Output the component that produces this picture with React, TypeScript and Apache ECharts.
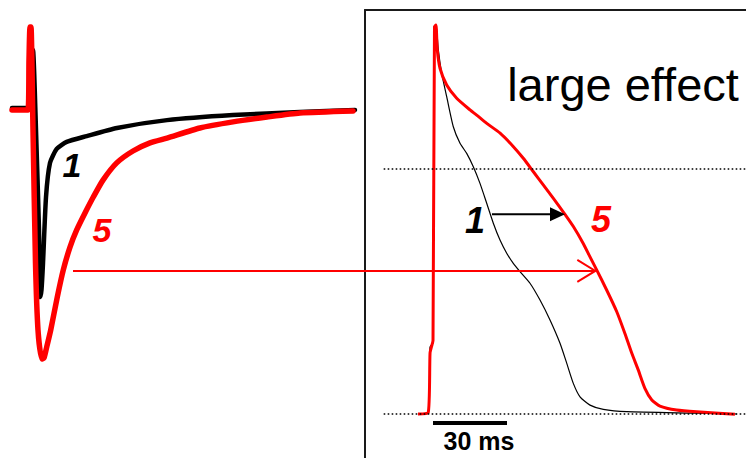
import React, { useEffect, useRef } from "react";
import * as echarts from "echarts";

// ---- Left panel: membrane current (normalized to peak of beat 5), time in ms ----
const currentTime1 = [-9, -1.5, 0, 1.5, 3, 4.5, 5.15, 5.75, 6.5, 8, 10, 13.35, 18.35, 28.35, 43.5, 68.5, 101.5, 135, 162.5];
const currentBeat1 = [0.008, 0.008, 0.008, 0.237, -0.079, -0.474, -0.739, -0.711, -0.605, -0.344, -0.209, -0.154, -0.126, -0.103, -0.071, -0.04, -0.02, -0.008, 0];

const currentTime5 = [-9, -1, -0.5, 0, 0.5, 1.5, 2.75, 4, 5.85, 7, 8.35, 10.35, 13.65, 16.65, 20, 23.35, 27.5, 31.65, 36.5, 43.35, 51.5, 60, 68.5, 85, 101.5, 118.5, 135, 161.5];
const currentBeat5 = [0, 0, 0.198, 0.328, 0.328, -0.079, -0.605, -0.87, -0.984, -0.98, -0.937, -0.87, -0.739, -0.632, -0.542, -0.474, -0.407, -0.344, -0.277, -0.209, -0.162, -0.13, -0.111, -0.071, -0.047, -0.028, -0.012, -0.004];

// ---- Right panel: action potentials, time in ms, voltage in mV ----
const apTime1 = [-6.1, -2.0, -1.2, 0, 0.4, 1.2, 2.15, 3.53, 5.55, 8.23, 10.95, 13.66, 16.34, 19.05, 21.77, 24.45, 27.16, 29.88, 32.55, 35.27, 39.32, 43.38, 47.43, 51.49, 54.2, 56.88, 59.6, 63.65, 69.04, 78.53, 105.4, 123.2];
const apVolt1 = [-80, -79.7, -58.1, -56.8, 46.4, 47.0, 38.9, 31.2, 23.6, 13.8, 8.4, 5.1, 0.75, -4.7, -11.2, -17.7, -23.2, -27.5, -30.8, -33.5, -37.3, -42.8, -49.3, -56.9, -63.4, -70.0, -74.4, -77.1, -78.5, -79.25, -79.7, -80];

const apTime5 = [-6.1, -2.0, -1.2, -0.6, 0, 0.6, 1.2, 1.74, 2.84, 5.55, 9.6, 15.0, 17.7, 21.8, 27.2, 32.6, 36.6, 40.7, 44.7, 48.8, 53.5, 56.9, 60.9, 63.6, 66.4, 70.4, 74.5, 77.8, 80.6, 83.2, 85.9, 88.7, 92.0, 98.8, 106.9, 122.4];
const apVolt5 = [-80, -79.7, -60, -58, -56, 46.4, 47, 38.9, 32.9, 27.4, 23.1, 19.3, 17.6, 14.9, 11.7, 7.3, 3.5, -0.9, -5.2, -9.6, -14.8, -18.8, -24.3, -28.6, -33.0, -39.5, -46.6, -53.7, -60.2, -65.6, -71.6, -75.4, -77.4, -78.7, -79.3, -80.1];

// reference levels (mV) and scale bar
const refLevels = [0, -80];
const scaleBarMs = 30;
const scaleBarY = -83;

const zip = (a: number[], b: number[]) => a.map((v, i) => [v, b[i]]);

const FONT = "'Liberation Sans', Arial, Helvetica, sans-serif";

export default function App() {
  const ref = useRef<HTMLDivElement>(null);
  useEffect(() => {
    if (!ref.current) return;
    const chart = echarts.init(ref.current, null, { renderer: "svg" });
    const hiddenAxis = { show: false };
    chart.setOption({
      animation: false,
      backgroundColor: "#ffffff",
      grid: [
        { left: 0, top: 0, width: 365, height: 458 },
        { left: 365, top: 10, width: 381, height: 448 },
      ],
      xAxis: [
        { type: "value", gridIndex: 0, min: -15, max: 167.5, ...hiddenAxis },
        {
          type: "value", gridIndex: 1, min: -27.57, max: 126.89, position: "top",
          axisLine: { show: true, onZero: false, lineStyle: { color: "#1a1a1a", width: 2 } },
          axisTick: { show: false }, axisLabel: { show: false }, splitLine: { show: false },
        },
      ],
      yAxis: [
        { type: "value", gridIndex: 0, min: -1.3755, max: 0.4348, ...hiddenAxis },
        {
          type: "value", gridIndex: 1, min: -94.37, max: 51.92,
          axisLine: { show: true, onZero: false, lineStyle: { color: "#1a1a1a", width: 2 } },
          axisTick: { show: false }, axisLabel: { show: false }, splitLine: { show: false },
        },
      ],
      series: [
        {
          type: "line", xAxisIndex: 0, yAxisIndex: 0, data: zip(currentTime1, currentBeat1),
          showSymbol: false, silent: true, smooth: 0.2,
          lineStyle: { color: "#000000", width: 4.5, cap: "round", join: "round" },
        },
        {
          type: "line", xAxisIndex: 0, yAxisIndex: 0, data: zip(currentTime5, currentBeat5),
          showSymbol: false, silent: true, smooth: 0.2,
          lineStyle: { color: "#ff0000", width: 5.5, cap: "round", join: "round" },
        },
        {
          type: "line", xAxisIndex: 1, yAxisIndex: 1, data: zip(apTime1, apVolt1),
          showSymbol: false, silent: true, smooth: 0.2,
          lineStyle: { color: "#000000", width: 1.2 },
          markLine: {
            silent: true, symbol: "none", label: { show: false },
            data: [
              ...refLevels.map((v) => [
                { coord: [-20, v], lineStyle: { color: "#000", width: 1.6, type: [1.6, 2.4] } },
                { coord: [126.89, v] },
              ]),
              [
                { coord: [0, scaleBarY], lineStyle: { color: "#000", width: 4, type: "solid" } },
                { coord: [scaleBarMs, scaleBarY] },
              ],
            ],
          },
        },
        {
          type: "line", xAxisIndex: 1, yAxisIndex: 1, data: zip(apTime5, apVolt5),
          showSymbol: false, silent: true, smooth: 0.2,
          lineStyle: { color: "#ff0000", width: 3, join: "round" },
        },
      ],
    });

    const px = (g: number, x: number, y: number) =>
      chart.convertToPixel({ gridIndex: g }, [x, y]) as number[];

    // black arrow (beat 1 -> beat 5 at -14.8 mV)
    const [bx0, by] = px(1, 23.9, -14.8);
    const [bx1] = px(1, 53.5, -14.8);
    // red arrow from current trace to AP at -33 mV
    const [rx0, ry] = px(0, 21.5, -0.636);
    const [rx1] = px(1, 65.8, -33.0);
    const [, sby] = px(1, 0, scaleBarY);

    const txt = (x: number, y: number, text: string, size: number, color: string, weight: string, style: string) => ({
      type: "text", x, y, z: 20,
      style: {
        text, fill: color, fontSize: size, fontWeight: weight, fontStyle: style,
        fontFamily: FONT, textAlign: "center", textVerticalAlign: "middle",
      },
    });

    chart.setOption({
      graphic: [
        { type: "line", z: 20, shape: { x1: bx0, y1: by, x2: bx1 - 12, y2: by }, style: { stroke: "#000", lineWidth: 2 } },
        { type: "polygon", z: 20, shape: { points: [[bx1, by], [bx1 - 15, by - 7], [bx1 - 15, by + 7]] }, style: { fill: "#000" } },
        { type: "line", z: 20, shape: { x1: rx0, y1: ry, x2: rx1, y2: ry }, style: { stroke: "#ff0000", lineWidth: 2 } },
        { type: "polyline", z: 20, shape: { points: [[rx1 - 18, ry - 11], [rx1, ry], [rx1 - 18, ry + 11]] }, style: { stroke: "#ff0000", lineWidth: 2, fill: null } },
        txt(72, 165, "1", 34, "#000", "bold", "italic"),
        txt(102, 230, "5", 34, "#ff0000", "bold", "italic"),
        txt(475, 220, "1", 36, "#000", "bold", "italic"),
        txt(601, 219, "5", 36, "#ff0000", "bold", "italic"),
        txt(623, 84, "large effect", 47, "#000", "normal", "normal"),
        txt(479, sby + 18, "30 ms", 25, "#000", "bold", "normal"),
      ],
    });

    return () => chart.dispose();
  }, []);
  return (
    <div
      ref={ref}
      style={{ position: "absolute", left: 0, top: 0, width: 746, height: 458, background: "#fff" }}
    />
  );
}
